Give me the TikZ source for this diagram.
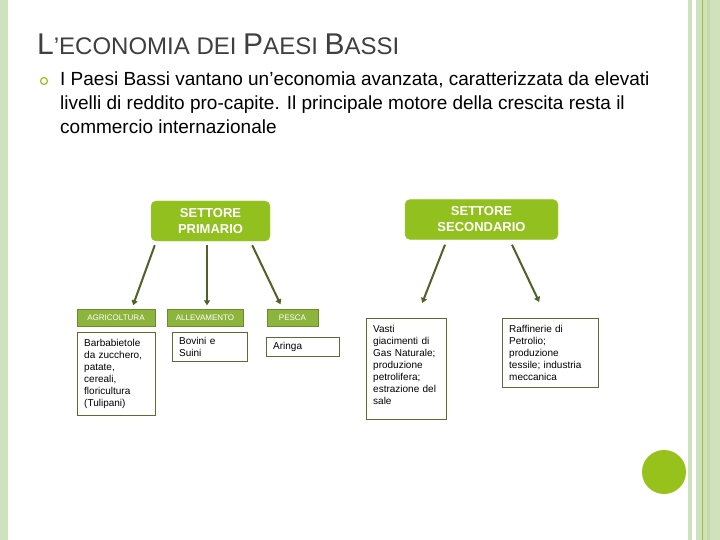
\documentclass[tikz,border=0pt]{standalone}
\usepackage{fontspec}
\setmainfont{Liberation Sans}
\usetikzlibrary{arrows.meta,positioning}

\definecolor{stripegreen}{HTML}{D0E2BC}
\definecolor{stripedark}{HTML}{C5DAAA}
\definecolor{linegreen}{HTML}{9BC43C}
\definecolor{dotgreen}{HTML}{97C21B}
\definecolor{sectorgreen}{HTML}{92C01F}
\definecolor{branchgreen}{HTML}{8DB43C}
\definecolor{branchedge}{HTML}{6C8C2C}
\definecolor{detailedge}{HTML}{5A6B34}
\definecolor{arrowolive}{HTML}{4F6228}
\definecolor{titlegray}{HTML}{3F3F3F}

\begin{document}
\begin{tikzpicture}
    [x=1pt, y=-1pt,
    every node/.style={inner sep=0pt},
    sector/.style={
        rounded corners=5pt, fill=sectorgreen, draw=sectorgreen!85!white,
        text=white, align=center, minimum height=40pt,
        font=\fontsize{13}{16}\selectfont\bfseries},
    branch/.style={
        fill=branchgreen, draw=branchedge, text=white,
        minimum height=17pt, font=\fontsize{8}{9}\selectfont},
    detail/.style={
        draw=detailedge, fill=white, anchor=north west, align=left,
        text width=#1, inner xsep=7pt, inner ysep=7pt,
        font=\fontsize{10}{12}\selectfont},
    link/.style={
        draw=arrowolive, line width=2pt,
        -{Triangle[length=5pt,width=6pt]}}
    ]
    \fill[white] (0,0) rectangle (720,540);
    \useasboundingbox (0,0) rectangle (720,540);

    % frame
    \fill[stripegreen] (0,0) rectangle (8,540);
    \fill[stripegreen] (688,0) rectangle (692,540);
    \fill[stripegreen] (696,0) rectangle (720,540);
    \fill[stripedark] (707,0) rectangle (710,540);
    \draw[linegreen, line width=1.5pt] (702.5,0) -- (702.5,540);
    \node (dot) [circle, fill=dotgreen, minimum size=44pt] at (664,472) {};

    % title and text
    \node (title) [anchor=base west, text=titlegray] at (37,55)
        {{\fontsize{30}{36}\selectfont L}{\fontsize{24}{30}\selectfont ’ECONOMIA DEI }{\fontsize{30}{36}\selectfont P}{\fontsize{24}{30}\selectfont AESI }{\fontsize{30}{36}\selectfont B}{\fontsize{24}{30}\selectfont ASSI}};
    \node (bullet) [circle, draw=dotgreen, line width=1.2pt, minimum size=7pt] at (44,81) {};
    \node (intro) [anchor=north west, align=left, font=\fontsize{19}{24}\selectfont] at (60,72)
        {I Paesi Bassi vantano un'economia avanzata, caratterizzata da elevati\\
         livelli di reddito pro-capite. Il principale motore della crescita resta il\\
         commercio internazionale};

    % sectors
    \node (prim) [sector, minimum width=119pt] at (210.5,221) {SETTORE\\PRIMARIO};
    \node (sec) [sector, minimum width=153pt] at (481.5,219.5) {SETTORE\\SECONDARIO};

    % branches of the primary sector
    \node (agri) [branch, minimum width=78pt] at (116,318) {AGRICOLTURA};
    \node (alle) [branch, minimum width=76pt] at (205,318) {ALLEVAMENTO};
    \node (pesca) [branch, minimum width=51pt] at (292.5,318) {PESCA};

    \node (agridet) [detail=64pt] at (77,332)
        {Barbabietole\\da zucchero,\\patate,\\cereali,\\floricultura\\(Tulipani)};
    \node (alledet) [detail=61pt, inner ysep=5pt] at (172,332) {Bovini e\\Suini};
    \node (pescadet) [detail=59pt, inner ysep=5pt] at (266,337) {Aringa};

    % secondary sector
    \node (gas) [detail=66pt] at (366,318)
        {Vasti\\giacimenti di\\Gas Naturale;\\produzione\\petrolifera;\\estrazione del\\sale\\[-4pt]~};
    \node (raff) [detail=82pt] at (502,318)
        {Raffinerie di\\Petrolio;\\produzione\\tessile; industria\\meccanica};

    % arrows
    \draw[link] ([shift={(4,4)}]prim.south west) -- ([shift={(17,-4)}]agri.north);
    \draw[link] ([shift={(-3.5,4)}]prim.south) -- ([shift={(2,-4)}]alle.north);
    \draw[link] ([shift={(-18,4)}]prim.south east) -- ([shift={(-12,-5)}]pesca.north);
    \draw[link] ([shift={(-36.5,5)}]sec.south) -- ([shift={(16,-15)}]gas.north);
    \draw[link] ([shift={(30.5,5)}]sec.south) -- ([shift={(-11,-16)}]raff.north);
\end{tikzpicture}
\end{document}
